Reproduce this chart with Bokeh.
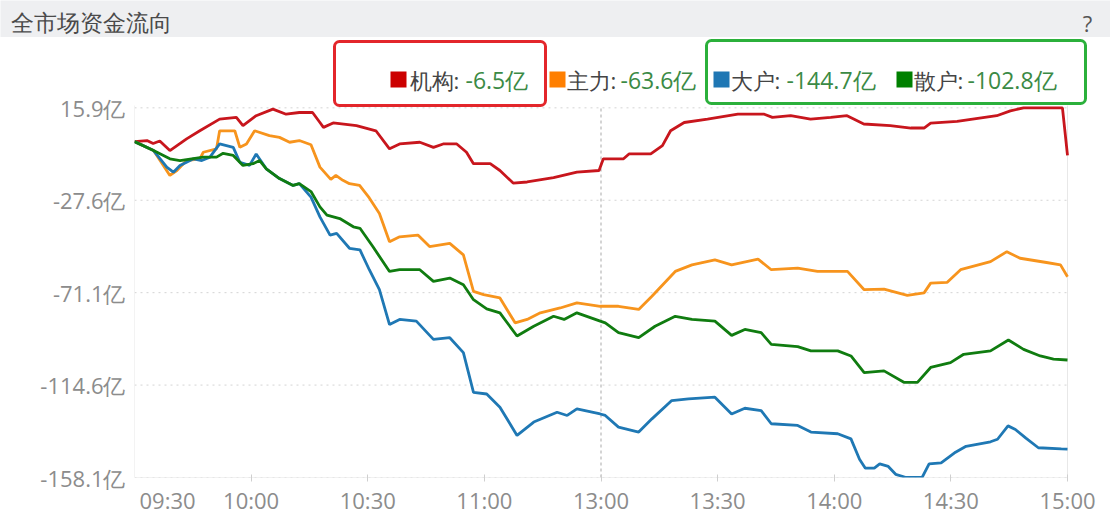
from bokeh.embed import file_html
from bokeh.resources import INLINE
from bokeh.plotting import figure
from bokeh.layouts import column
from bokeh.models import BoxAnnotation, FixedTicker, Label, Range1d

# minutes since 09:30 with the lunch break removed (120 = 11:30/13:00, 240 = 15:00), values in 亿
jigou_t = [0, 3.2, 4.8, 6.5, 9.1, 13.4, 16.8, 21.9, 26.2, 27.9, 31.3, 35.6, 39.0, 42.4, 45.8,
           47.7, 48.6, 51.1, 57.1, 62.1, 65.6, 68.2, 73.4, 76.9, 79.4, 82.9, 85.4, 87.2, 91.5,
           94.0, 97.4, 101.0, 107.8, 113.8, 119.5, 120.6, 125.8, 127.2, 132.8, 135.8, 137.9,
           141.4, 147.4, 155.2, 162.0, 164.1, 168.8, 173.9, 179.1, 183.3, 187.6, 194.4, 199.7,
           203.1, 204.8, 211.6, 221.8, 225.3, 228.7, 238.7, 240]
jigou_v = [0, 0.5, -0.9, 0.3, -4.2, 1.3, 5.1, 10.6, 11.4, 7.5, 12.2, 15.3, 12.9, 13.7, 13.7,
           9.0, 6.7, 8.8, 7.5, 5.1, -3.4, -1.1, -0.3, -2.7, -1.1, -1.1, -5.0, -10.4, -10.4,
           -13.6, -19.5, -19.0, -17.0, -14.4, -13.6, -8.1, -8.1, -5.8, -5.8, -1.9, 5.1,
           9.0, 10.6, 12.9, 12.9, 11.4, 12.2, 10.6, 11.4, 12.2, 8.3, 7.5, 6.4,
           6.4, 8.7, 9.5, 12.2, 14.5, 15.9, 15.9, -6.5]

zhuli_t = [0, 4.9, 9.1, 10.9, 13.4, 16.8, 17.7, 21.1, 21.9, 25.8, 27.1, 28.8, 30.9, 34.7, 37.3,
           39.9, 42.4, 45.4, 47.7, 50.5, 51.8, 53.6, 55.3, 57.9, 60.4, 63.0, 65.6, 68.2, 72.9,
           75.9, 81.1, 84.6, 87.2, 89.8, 94.0, 97.9, 101.0, 104.4, 109.5, 113.8, 119.8, 124.5,
           129.7, 133.1, 139.1, 143.4, 149.3, 153.6, 160.4, 163.8, 170.6, 175.7, 183.4, 187.7,
           192.8, 198.8, 203.1, 204.8, 209.0, 212.5, 220.2, 224.4, 227.8, 234.6, 238.2, 240]
zhuli_v = [0, -4.2, -15.9, -13.6, -8.9, -8.1, -5.0, -3.4, 5.1, 5.1, -2.7, -1.1, 5.1, 2.8, 2.0,
           -0.3, 0.5, -1.5, -12.0, -17.8, -15.9, -18.2, -19.8, -20.6, -26.5, -33.8, -47.1, -44.8, -44.0,
           -49.4, -47.9, -53.3, -70.5, -72.0, -73.6, -85.3, -83.7, -80.6, -78.3, -75.9, -77.5, -77.5,
           -79.0, -72.8, -61.1, -58.0, -55.7, -58.0, -55.3, -60.3, -59.5, -61.1, -61.1, -69.7,
           -69.4, -72.4, -71.2, -66.6, -66.3, -60.3, -56.5, -51.8, -54.9, -56.9, -58.0, -63.6]

dahu_t = [0, 4.9, 8.3, 10.0, 11.7, 15.2, 17.3, 19.4, 21.9, 25.4, 27.1, 29.6, 31.3, 33.9, 37.3,
          40.8, 42.4, 45.4, 47.7, 50.3, 52.0, 55.3, 58.0, 60.4, 63.0, 65.6, 68.2, 72.5, 76.9,
          81.1, 84.6, 87.2, 90.6, 94.0, 98.4, 102.7, 108.7, 111.3, 113.8, 119.8, 121.1, 124.5,
          129.7, 133.1, 138.2, 142.5, 149.3, 153.6, 157.0, 161.2, 163.8, 170.6, 174.0, 180.9,
          184.3, 186.5, 188.0, 190.3, 191.7, 193.9, 195.8, 198.5, 202.6, 204.4, 207.5, 211.2,
          213.9, 220.2, 222.0, 224.7, 226.6, 229.3, 232.5, 238.4, 240]
dahu_v = [0, -4.2, -12.0, -14.4, -11.2, -8.1, -8.9, -7.3, -1.1, -2.7, -9.7, -11.2, -5.8, -12.8, -17.4,
          -20.6, -19.8, -26.1, -35.4, -44.0, -43.2, -50.2, -51.0, -60.3, -69.7, -86.1, -83.7, -84.5, -93.1,
          -92.3, -99.3, -118.0, -118.8, -125.0, -138.3, -132.0, -127.4, -128.9, -125.8, -128.2, -128.9, -134.4,
          -136.7, -130.5, -121.9, -121.1, -120.3, -128.2, -125.5, -126.6, -132.8, -133.6, -136.7, -137.5,
          -139.9, -149.5, -153.7, -153.7, -151.7, -152.9, -156.6, -158.1, -158.1, -151.7, -151.2, -146.2,
          -143.4, -141.3, -140.1, -133.8, -135.5, -139.6, -144.1, -144.6, -144.7]

sanhu_t = [0, 4.9, 9.1, 11.7, 17.7, 21.1, 22.8, 25.4, 27.9, 30.5, 32.2, 33.9, 37.3, 40.8, 42.4,
           45.4, 47.7, 49.5, 52.8, 56.3, 58.0, 61.3, 65.6, 68.2, 73.4, 76.9, 81.1, 84.6, 87.2,
           90.6, 94.0, 98.4, 102.7, 107.8, 110.5, 113.8, 119.8, 121.1, 124.5, 129.7, 133.9, 139.1,
           143.4, 149.3, 153.6, 157.0, 161.2, 163.8, 170.6, 174.0, 180.9, 184.3, 187.7, 192.8,
           197.9, 201.4, 204.8, 209.9, 213.3, 220.2, 224.8, 228.7, 233.0, 236.4, 240]
sanhu_v = [0, -4.2, -8.1, -8.9, -7.3, -7.3, -5.5, -6.5, -11.2, -10.4, -8.9, -12.8, -17.4, -20.6, -19.8,
           -23.5, -30.7, -34.6, -36.2, -40.1, -40.8, -49.4, -61.1, -60.3, -60.3, -65.8, -64.2, -67.4, -74.4,
           -78.7, -80.6, -91.5, -86.9, -82.2, -83.7, -80.6, -84.5, -85.3, -89.9, -92.3, -86.9, -82.2,
           -83.7, -84.5, -91.2, -88.4, -89.9, -95.4, -96.5, -98.5, -98.5, -100.9, -108.7, -107.9,
           -113.3, -113.3, -106.3, -104.0, -100.1, -98.5, -93.4, -97.8, -100.9, -102.4, -102.8]

# time axis: 09:30 label sits right of the axis start, like the source
time_ticks = [0, 30, 60, 90, 120, 150, 180, 210, 240]
time_labels = ["09:30", "10:00", "10:30", "11:00", "13:00", "13:30", "14:00", "14:30", "15:00"]
first_label_pos = 8.5
y_ticks = [15.9, -27.6, -71.1, -114.6, -158.1]
lunch_break = 120

title_text = "全市场资金流向"
legend_names = ["机构", "主力", "大户", "散户"]
legend_values = [-6.5, -63.6, -144.7, -102.8]
line_colors = ["#c8161d", "#f7941d", "#1f78b4", "#107c10"]
square_colors = ["#cc0000", "#ff7f00", "#1f77b4", "#008000"]

FONT = "Open Sans"
W = 1110
HEAD_H = 37
MAIN_H = 522 - HEAD_H
BL, BR, BT, BB = 134, 20, 0, 45
FW, FH = W - BL - BR, MAIN_H - BT - BB
X0, X1 = 0, 240                 # trading minutes shown on the axis
PX_PER_MIN = 933 / 240
PX_PER_YI = 372 / 175.1
Y_BOTTOM = -158.1
X_END = X1 + (FW - X1 * PX_PER_MIN) / PX_PER_MIN     # room on the right for the legend frame
Y_TOP = Y_BOTTOM + FH / PX_PER_YI                    # room on top for the legend
PLOT_TOP = 17.0


def ax(px):
    # page pixel -> data x
    return X0 + (px - BL) / PX_PER_MIN


def ay(py):
    # page pixel -> data y
    return Y_TOP - (py - HEAD_H - BT) / PX_PER_YI


# ---- header strip
head = figure(width=W, height=HEAD_H, x_range=Range1d(0, W), y_range=Range1d(HEAD_H, 0),
              x_axis_type=None, y_axis_type=None, output_backend="svg",
              toolbar_location=None, tools="", min_border=0, frame_align=False)
head.outline_line_color = None
head.grid.grid_line_color = None
head.background_fill_color = "#eeeff1"
head.border_fill_color = "#eeeff1"
head.add_layout(Label(x=10, y=21, text=title_text, text_baseline="middle", text_font=FONT,
                      text_font_size="23px", text_color="#4a4a4a"))
head.add_layout(Label(x=1087, y=22, text="?", text_align="center", text_baseline="middle",
                      text_font=FONT, text_font_size="22px", text_color="#555555"))

# ---- main chart
p = figure(width=W, height=MAIN_H, x_range=(X0, X_END), y_range=(Y_BOTTOM, Y_TOP),
           output_backend="svg", toolbar_location=None, tools="", frame_align=False,
           min_border_left=BL, min_border_right=BR, min_border_top=BT, min_border_bottom=BB)
p.outline_line_color = None
p.background_fill_color = "white"
p.border_fill_color = "white"

label_pos = [first_label_pos] + time_ticks[1:]
p.xaxis.ticker = FixedTicker(ticks=label_pos, minor_ticks=time_ticks[1:])
p.xaxis.major_label_overrides = dict(zip(label_pos, time_labels))
p.xaxis.axis_line_color = None
p.xaxis.major_tick_line_color = None
p.xaxis.major_tick_out = 4
p.xaxis.minor_tick_line_color = "#cfcfcf"
p.xaxis.minor_tick_in = 3
p.xaxis.minor_tick_out = 4
p.xaxis.major_label_standoff = 3
p.xaxis.major_label_text_font = FONT
p.xaxis.major_label_text_font_size = "22px"
p.xaxis.major_label_text_color = "#8c8c8c"

p.yaxis.ticker = FixedTicker(ticks=y_ticks)
p.yaxis.major_label_overrides = {t: f"{t}亿" for t in y_ticks}
p.yaxis.axis_line_color = None
p.yaxis.major_tick_line_color = None
p.yaxis.minor_tick_line_color = None
p.yaxis.major_label_standoff = 3
p.yaxis.major_label_text_font = FONT
p.yaxis.major_label_text_font_size = "22px"
p.yaxis.major_label_text_color = "#8c8c8c"
p.grid.grid_line_color = None

# plot-area guides, limited to the trading span
n = len(y_ticks)
p.segment(x0=[X0] * n, x1=[X1] * n, y0=y_ticks, y1=y_ticks,
          line_color="#d4d4d4", line_dash="2 4", line_width=1)
p.segment(x0=[X0], x1=[X1], y0=[Y_BOTTOM], y1=[Y_BOTTOM], line_color="#e3e3e3", line_width=1)
p.segment(x0=[X0, X1], x1=[X0, X1], y0=[Y_BOTTOM] * 2, y1=[PLOT_TOP] * 2,
          line_color="#e8e8e8", line_width=1)
p.segment(x0=[lunch_break], x1=[lunch_break], y0=[Y_BOTTOM], y1=[PLOT_TOP],
          line_color="#a9a9a9", line_dash="3 3", line_width=1)

for t, v, c in [(jigou_t, jigou_v, line_colors[0]), (zhuli_t, zhuli_v, line_colors[1]),
                (dahu_t, dahu_v, line_colors[2]), (sanhu_t, sanhu_v, line_colors[3])]:
    p.line(t, v, line_color=c, line_width=2.8)

# legend
square_x = [390, 549, 713, 896]
name_x = [409, 566, 730, 913]
value_x = [465, 620, 786, 967]
LEG_Y = 79
for i in range(len(legend_names)):
    p.add_layout(BoxAnnotation(left=ax(square_x[i]), right=ax(square_x[i] + 16),
                               top=ay(LEG_Y - 8), bottom=ay(LEG_Y + 8),
                               fill_color=square_colors[i], fill_alpha=1, line_color=None))
    p.add_layout(Label(x=ax(name_x[i]), y=ay(LEG_Y), text=legend_names[i] + ":",
                       text_baseline="middle", text_font=FONT, text_font_size="22px",
                       text_color="#444444"))
    p.add_layout(Label(x=ax(value_x[i]), y=ay(LEG_Y), text=f"{legend_values[i]}亿",
                       text_baseline="middle", text_font=FONT, text_font_size="23px",
                       text_color="#3b8a45"))

# red and green highlight frames round the legend
p.add_layout(BoxAnnotation(left=ax(334), right=ax(545), top=ay(41), bottom=ay(105),
                           fill_color=None, line_color="#e3262b", line_alpha=1, line_width=3,
                           border_radius=5))
p.add_layout(BoxAnnotation(left=ax(706), right=ax(1085), top=ay(40), bottom=ay(103),
                           fill_color=None, line_color="#2bb03b", line_alpha=1, line_width=3,
                           border_radius=5))

page = column(head, p, spacing=0)
open("out.html", "w").write(file_html(page, INLINE))
